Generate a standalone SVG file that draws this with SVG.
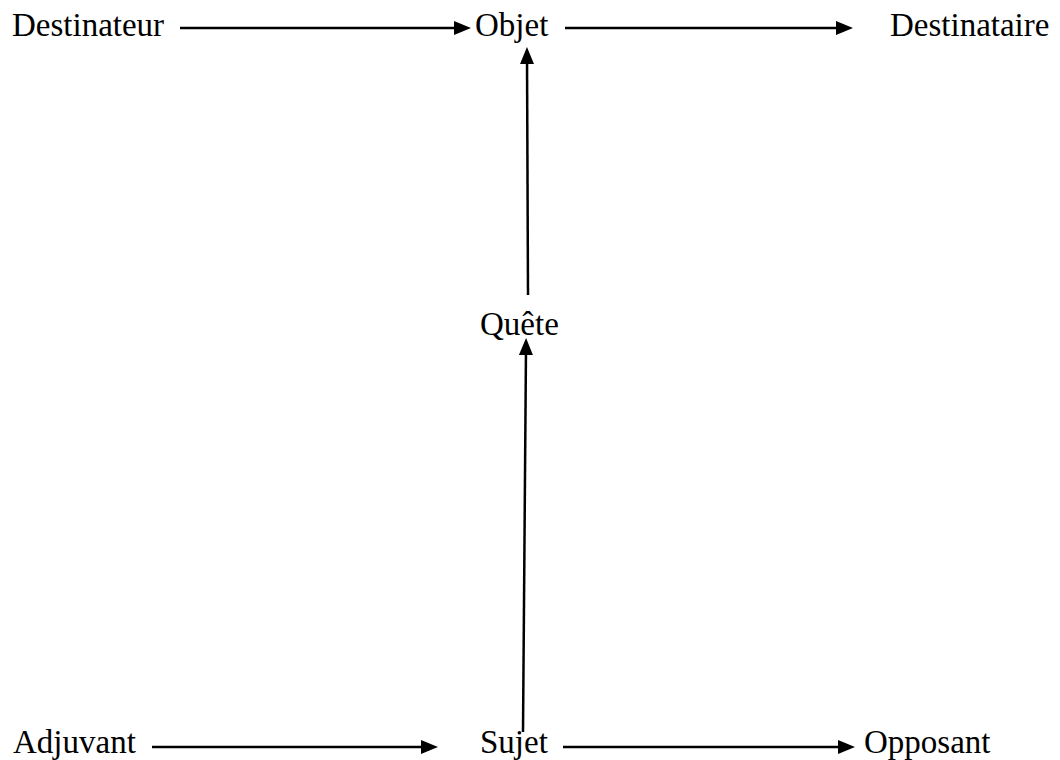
<svg xmlns="http://www.w3.org/2000/svg" width="1060" height="760" viewBox="0 0 1060 760">
  <style>
    .lbl { font-family: "Liberation Serif", "Times New Roman", serif; font-size: 33px; fill: #000; }
    .conn { stroke: #000; stroke-width: 2.5; fill: none; marker-end: url(#arrow); }
  </style>
  <defs>
    <marker id="arrow" markerUnits="userSpaceOnUse" markerWidth="17" markerHeight="14" refX="7" refY="7" orient="auto">
      <path d="M0,0 L17,7 L0,14 Z" fill="#000"/>
    </marker>
  </defs>
  <rect width="1060" height="760" fill="#fff"/>
  <g id="connectors">
    <line class="conn" x1="180" y1="28" x2="461" y2="28"/>
    <line class="conn" x1="565" y1="28" x2="843" y2="28"/>
    <line class="conn" x1="528" y1="295" x2="527" y2="57"/>
    <line class="conn" x1="523" y1="732" x2="526" y2="348"/>
    <line class="conn" x1="152" y1="747" x2="428" y2="747"/>
    <line class="conn" x1="563" y1="747" x2="845" y2="747"/>
  </g>
  <g id="destinateur"><text class="lbl" x="12" y="36">Destinateur</text></g>
  <g id="objet"><text class="lbl" x="475" y="36">Objet</text></g>
  <g id="destinataire"><text class="lbl" x="890" y="36">Destinataire</text></g>
  <g id="quete"><text class="lbl" x="480" y="335">Quête</text></g>
  <g id="adjuvant"><text class="lbl" x="13" y="753">Adjuvant</text></g>
  <g id="sujet"><text class="lbl" x="480" y="753">Sujet</text></g>
  <g id="opposant"><text class="lbl" x="864" y="753">Opposant</text></g>
</svg>
